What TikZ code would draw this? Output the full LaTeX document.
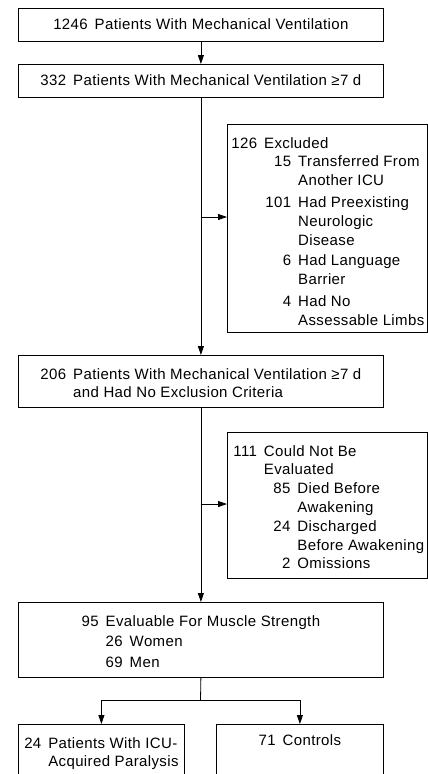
\documentclass[tikz,border=0pt]{standalone}
\usepackage{fontspec}
\setmainfont[LetterSpace=2.5]{Liberation Sans}
\usetikzlibrary{arrows.meta}

\newcommand{\numgap}{\hspace{7pt}}
% fixed size box, text from the top
\newcommand{\boxtext}[3]{\parbox[c][#2][t]{#1}{\vspace*{10.5pt}#3}}

\tikzset{
  flowbox/.style={draw, line width=0.8pt, inner sep=0pt, anchor=north west},
  arr/.style={line width=0.8pt, -{Triangle[length=9pt,width=6pt]}}
}

\begin{document}
\begin{tikzpicture}[x=1pt, y=-1pt, font=\fontsize{15}{18.8}\selectfont]
\useasboundingbox (0,0) rectangle (428,774);

% Main column
\node[flowbox] (total) at (18,8) {\boxtext{365pt}{33pt}{\centering
  1246\numgap Patients With Mechanical Ventilation}};
\node[flowbox] (vent7) at (18,64) {\boxtext{365pt}{33pt}{\centering
  332\numgap Patients With Mechanical Ventilation ≥7 d}};
\node[flowbox] (noexcl) at (18,355) {\boxtext{365pt}{52pt}{\centering
  \begin{tabular}[t]{@{}r@{\numgap}l@{}}
  206 & Patients With Mechanical Ventilation ≥7 d\\
      & and Had No Exclusion Criteria
  \end{tabular}}};
\node[flowbox] (evalbox) at (18,602) {\boxtext{365pt}{75pt}{\centering
  \begin{tabular}[t]{@{}r@{\numgap}l@{}}
  95 & Evaluable For Muscle Strength\\[2pt]
     & 26\numgap Women\\[2pt]
     & 69\numgap Men
  \end{tabular}}};

% Side boxes
\node[flowbox] (excl) at (227,124) {\boxtext{200pt}{208pt}{\raggedright\hspace*{4pt}%
  \begin{tabular}[t]{@{\hspace{34pt}}r@{\numgap}l@{}}
  \multicolumn{2}{@{}l@{}}{126\numgap Excluded}\\
  15 & Transferred From\\
     & Another ICU\\[3.5pt]
  101 & Had Preexisting\\
      & Neurologic\\
      & Disease\\[1.5pt]
  6 & Had Language\\
    & Barrier\\[3pt]
  4 & Had No\\
    & Assessable Limbs
  \end{tabular}}};
\node[flowbox] (noteval) at (227,432) {\boxtext{200pt}{146pt}{\raggedright\hspace*{6pt}%
  \begin{tabular}[t]{@{\hspace{40pt}}r@{\numgap}l@{}}
  \multicolumn{2}{@{}l@{}}{111\numgap Could Not Be}\\
  \multicolumn{2}{@{}l@{}}{\phantom{111}\numgap Evaluated}\\
  85 & Died Before\\
     & Awakening\\
  24 & Discharged\\
     & Before Awakening\\
  2 & Omissions
  \end{tabular}}};

% Bottom boxes (cut off by the page)
\node[flowbox] (icuap) at (18,724) {\boxtext{166pt}{70pt}{\centering
  \begin{tabular}[t]{@{}r@{\numgap}l@{}}
  24 & Patients With ICU-\\
     & Acquired Paralysis
  \end{tabular}}};
\node[flowbox] (ctrl) at (216,724) {\boxtext{167pt}{70pt}{\centering
  71\numgap Controls}};

% Connectors
\coordinate (exclsplit) at (200.5,217);
\coordinate (evalsplit) at (200.5,504);
\coordinate (fork) at (200.5,700);

\draw[arr] (total) -- (vent7);
\draw[arr] (vent7) -- (noexcl);
\draw[arr] (exclsplit) -- (exclsplit -| excl.west);
\draw[arr] (noexcl) -- (evalbox);
\draw[arr] (evalsplit) -- (evalsplit -| noteval.west);
\draw[line width=0.8pt] (evalbox.south) -- (fork);
\draw[arr] (fork) -| (icuap.north);
\draw[arr] (fork) -| (ctrl.north);
\end{tikzpicture}
\end{document}
